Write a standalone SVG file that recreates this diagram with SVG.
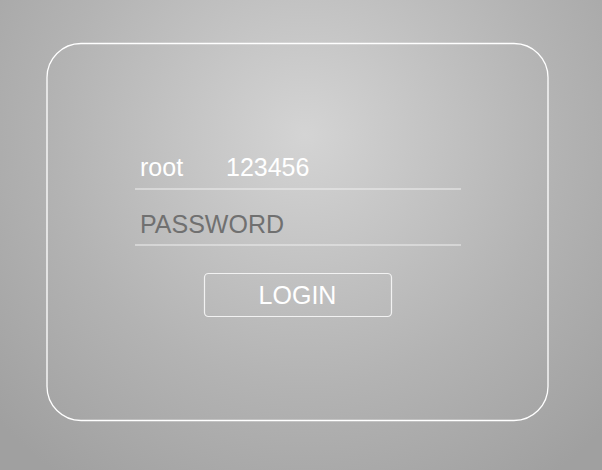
<svg xmlns="http://www.w3.org/2000/svg" width="602" height="470" viewBox="0 0 602 470">
<defs>
<radialGradient id="bg" gradientUnits="userSpaceOnUse" cx="305" cy="135" r="420">
<stop offset="0" stop-color="#d4d4d4"/>
<stop offset="0.6" stop-color="#b3b3b3"/>
<stop offset="1" stop-color="#a0a0a0"/>
</radialGradient>
<style>
.t{font-family:"Liberation Sans",Arial,sans-serif;font-size:25px}
.w{fill:#ffffff}
.line{stroke:#f0f0f0;stroke-width:1.2}
</style>
</defs>
<rect x="0" y="0" width="602" height="470" fill="url(#bg)"/>
<g id="panel">
<rect x="47" y="43.5" width="501" height="377" rx="34" ry="34" fill="none" stroke="#ffffff" stroke-width="1.3"/>
</g>
<g id="username">
<text class="t w" x="140" y="176">root</text>
<text class="t w" x="226" y="176">123456</text>
<line class="line" x1="135" y1="189" x2="461" y2="189"/>
</g>
<g id="password">
<text class="t" x="140" y="233" fill="#707070">PASSWORD</text>
<line class="line" x1="135" y1="245" x2="461" y2="245"/>
</g>
<g id="login">
<rect x="204.5" y="273.5" width="187" height="43" rx="4" fill="none" stroke="#f2f2f2" stroke-width="1.2"/>
<text class="t w" x="297.5" y="303.5" text-anchor="middle">LOGIN</text>
</g>
<g id="connectors"/>
</svg>
